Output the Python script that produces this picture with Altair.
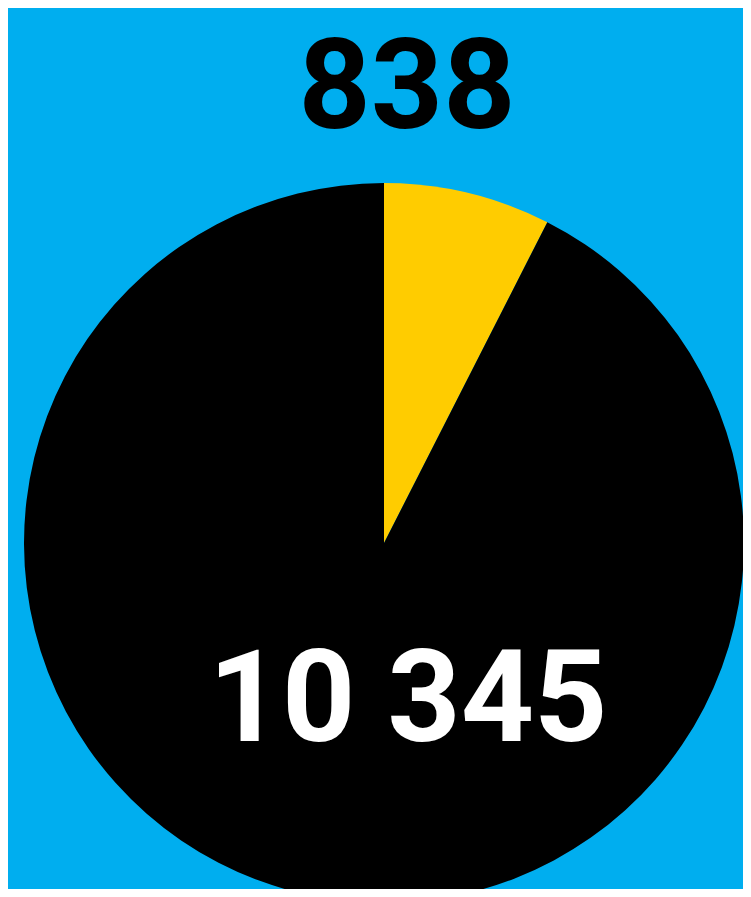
import altair as alt
import pandas as pd

categories = ["Yes", "No"]
values = [838, 10345]
colors = ["#FFCC00", "#000000"]

labels = [f"{v:,}".replace(",", " ") for v in values]
df = pd.DataFrame({"category": categories, "value": values, "label": labels, "order": [0, 1]})

BG = "#00AEEF"
FONT = "Roboto"

pie = alt.Chart(df).mark_arc(radius=360, stroke=None).encode(
    theta=alt.Theta("value:Q", stack=True),
    order=alt.Order("order:Q"),
    color=alt.Color("category:N", scale=alt.Scale(domain=categories, range=colors), legend=None),
    x=alt.value(376),
    y=alt.value(535),
)

top_label = alt.Chart(df).transform_filter(alt.datum.category == "Yes").mark_text(
    font=FONT, fontWeight="bold", fontSize=126, color="#000000",
    align="center", baseline="alphabetic",
).encode(text="label:N", x=alt.value(399), y=alt.value(120))

bottom_label = alt.Chart(df).transform_filter(alt.datum.category == "No").mark_text(
    font=FONT, fontWeight="bold", fontSize=128, color="#FFFFFF",
    align="center", baseline="alphabetic",
).encode(text="label:N", x=alt.value(400), y=alt.value(733))

chart = alt.layer(pie, top_label, bottom_label).properties(
    width=735, height=881, background=BG, padding=0,
    autosize=alt.AutoSizeParams(type="none"),
    usermeta={"embedOptions": {"defaultStyle": "html, body { background-color: #00AEEF !important; }"}},
).configure_view(stroke=None, fill=BG)

chart.save("out.html", embed_options={"renderer": "svg", "actions": False})
